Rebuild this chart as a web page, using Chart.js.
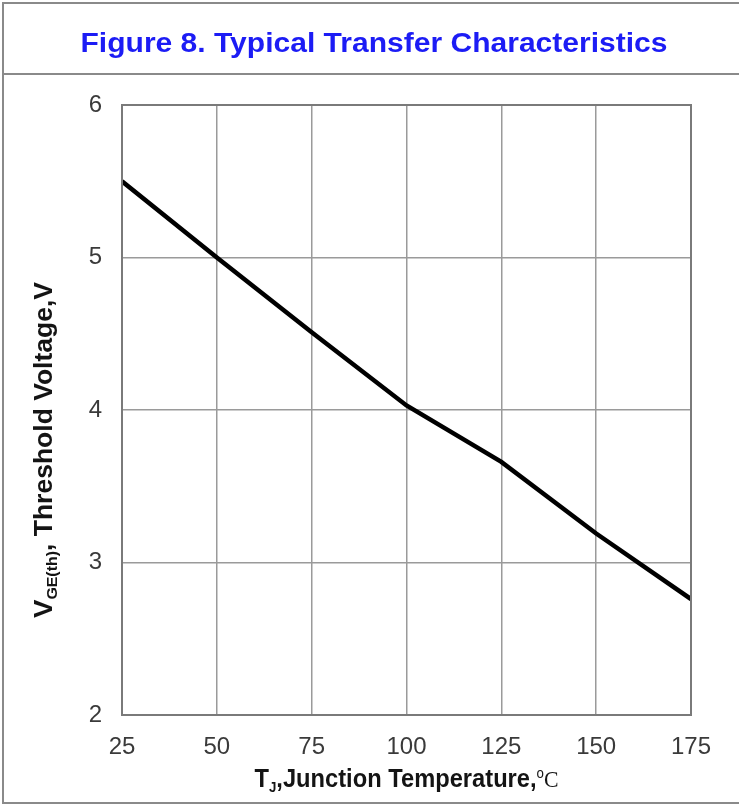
<!DOCTYPE html>
<html>
<head>
<meta charset="utf-8">
<title>Figure 8. Typical Transfer Characteristics</title>
<script src="https://cdn.jsdelivr.net/npm/chart.js@4.4.1/dist/chart.umd.min.js"></script>
<style>
  html, body { margin: 0; padding: 0; background: #fff; }
  #wrap { position: relative; width: 739px; height: 806px; }
  canvas { display: block; }
</style>
</head>
<body>
<div id="wrap"><canvas id="c" width="739" height="806"></canvas></div>
<script>
// Junction temperature (°C) and gate-emitter threshold voltage (V)
const temperatures = [25, 50, 75, 100, 125, 150, 175];
const thresholdVoltage = [5.50, 5.00, 4.51, 4.03, 3.66, 3.19, 2.76];
const xTicks = [25, 50, 75, 100, 125, 150, 175];
const yTicks = [2, 3, 4, 5, 6];
const figureTitle = 'Figure 8. Typical Transfer Characteristics';

const tickFont = { family: '"Liberation Sans", Arial, sans-serif', size: 24 };

// Draws a run of text pieces (with optional sub/superscripts) squeezed to a target width
function drawRuns(ctx, runs, cx, cy, targetWidth, color) {
  ctx.save();
  ctx.fillStyle = color;
  ctx.textBaseline = 'alphabetic';
  let total = 0;
  runs.forEach(r => { ctx.font = r.font; r.w = ctx.measureText(r.text).width; total += r.w; });
  const sx = targetWidth ? targetWidth / total : 1;
  ctx.translate(cx, cy);
  ctx.scale(sx, 1);
  let x = -total / 2;
  runs.forEach(r => {
    ctx.font = r.font;
    ctx.textAlign = 'left';
    ctx.fillText(r.text, x, r.dy || 0);
    x += r.w;
  });
  ctx.restore();
}

const framePlugin = {
  id: 'frame',
  beforeDraw(chart) {
    const ctx = chart.ctx;
    ctx.save();
    ctx.fillStyle = '#ffffff';
    ctx.fillRect(0, 0, chart.width, chart.height);
    ctx.strokeStyle = '#8a8a8a';
    ctx.lineWidth = 2;
    ctx.beginPath();
    ctx.moveTo(chart.width, 3); ctx.lineTo(3, 3); ctx.lineTo(3, 803); ctx.lineTo(chart.width, 803);
    ctx.moveTo(3, 74); ctx.lineTo(chart.width, 74);
    ctx.stroke();
    ctx.restore();
  },
  afterDraw(chart) {
    const ctx = chart.ctx;
    const a = chart.chartArea;
    // plot box
    ctx.save();
    ctx.strokeStyle = '#7a7a7a';
    ctx.lineWidth = 2;
    ctx.strokeRect(a.left, a.top, a.right - a.left, a.bottom - a.top);
    ctx.restore();

    // figure title
    drawRuns(ctx, [{ text: figureTitle, font: 'bold 28px "Liberation Sans", Arial, sans-serif' }],
      374, 52, 587, '#1c1cf5');

    // x axis title
    const sans = '"Liberation Sans", Arial, sans-serif';
    drawRuns(ctx, [
      { text: 'T', font: 'bold 25px ' + sans },
      { text: 'J', font: 'bold 14px ' + sans, dy: 5 },
      { text: ',Junction Temperature,', font: 'bold 25px ' + sans },
      { text: 'o', font: '14px ' + sans, dy: -9 },
      { text: 'C', font: '23px "Liberation Serif", "Times New Roman", serif' }
    ], (a.left + a.right) / 2, 787, 304, '#141414');

    // y axis title (rotated)
    ctx.save();
    ctx.translate(52, 450);
    ctx.rotate(-Math.PI / 2);
    drawRuns(ctx, [
      { text: 'V', font: 'bold 26px ' + sans },
      { text: 'GE(th)', font: 'bold 15px ' + sans, dy: 5 },
      { text: ', Threshold Voltage,V', font: 'bold 25px ' + sans }
    ], 0, 0, 336, '#141414');
    ctx.restore();
  }
};

new Chart(document.getElementById('c'), {
  type: 'line',
  data: {
    datasets: [{
      data: temperatures.map((t, i) => ({ x: t, y: thresholdVoltage[i] })),
      borderColor: '#000000',
      borderWidth: 4.5,
      pointRadius: 0,
      tension: 0,
      fill: false
    }]
  },
  options: {
    responsive: false,
    animation: false,
    devicePixelRatio: 1,
    layout: { padding: { left: 0, top: 105, right: 48, bottom: 0 } },
    plugins: { legend: { display: false }, tooltip: { enabled: false }, title: { display: false } },
    scales: {
      x: {
        type: 'linear',
        min: 25, max: 175,
        afterBuildTicks: s => { s.ticks = xTicks.map(v => ({ value: v })); },
        afterFit: s => { s.height = 91; },
        grid: { color: '#9a9a9a', lineWidth: 1.5, drawTicks: false },
        border: { display: false },
        ticks: { font: tickFont, color: '#3a3a3a', padding: 18, maxRotation: 0, autoSkip: false }
      },
      y: {
        type: 'linear',
        min: 2, max: 6,
        afterBuildTicks: s => { s.ticks = yTicks.map(v => ({ value: v })); },
        afterFit: s => { s.width = 122; },
        grid: { color: '#9a9a9a', lineWidth: 1.5, drawTicks: false },
        border: { display: false },
        ticks: { font: tickFont, color: '#3a3a3a', padding: 20 }
      }
    }
  },
  plugins: [framePlugin]
});
</script>
</body>
</html>
